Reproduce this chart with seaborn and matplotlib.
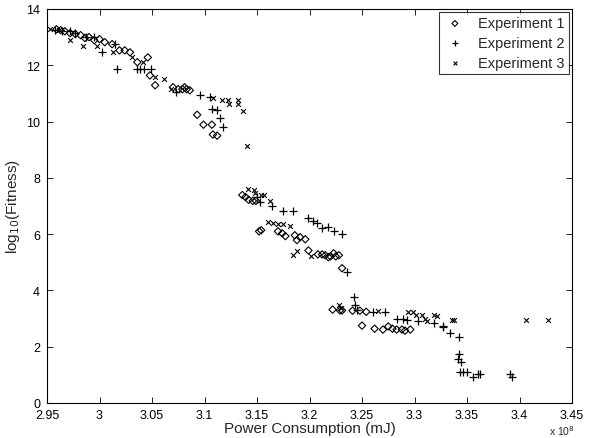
import matplotlib
matplotlib.use("Agg")
import matplotlib.pyplot as plt
import seaborn as sns
import pandas as pd

# power consumption in units of 1e8 mJ, fitness as log10
exp1_power = [2.959, 2.963, 2.967, 2.972, 2.977, 2.982, 2.986, 2.990, 2.995, 3.000,
              3.005, 3.012, 3.019, 3.024, 3.029, 3.036, 3.046, 3.048, 3.053, 3.070,
              3.075, 3.079, 3.081, 3.083, 3.086, 3.093, 3.099, 3.107, 3.108, 3.112,
              3.136, 3.139, 3.142, 3.146, 3.149, 3.152, 3.154, 3.170, 3.174, 3.177,
              3.186, 3.188, 3.191, 3.196, 3.199, 3.208, 3.212, 3.215, 3.218, 3.220,
              3.223, 3.225, 3.228, 3.231, 3.222, 3.229, 3.231, 3.241, 3.248, 3.254,
              3.250, 3.262, 3.270, 3.275, 3.279, 3.283, 3.288, 3.291, 3.296]
exp1_fitness = [13.28, 13.25, 13.21, 13.14, 13.11, 13.07, 12.97, 13.00, 12.89, 12.93,
                12.82, 12.75, 12.53, 12.53, 12.46, 12.11, 12.28, 11.64, 11.29, 11.22,
                11.15, 11.15, 11.22, 11.15, 11.11, 10.24, 9.89, 9.89, 9.54, 9.50,
                7.39, 7.32, 7.22, 7.18, 7.18, 6.10, 6.14, 6.10, 6.03, 5.93,
                5.96, 5.79, 5.89, 5.82, 5.42, 5.28, 5.28, 5.25, 5.18, 5.21,
                5.32, 5.21, 5.25, 4.79, 3.32, 3.29, 3.29, 3.28, 3.28, 3.24,
                2.75, 2.64, 2.61, 2.72, 2.64, 2.61, 2.61, 2.57, 2.61]

exp2_power = [2.958, 2.964, 2.972, 2.977, 2.987, 2.995, 3.002, 3.015, 3.017, 3.036,
              3.039, 3.042, 3.049, 3.073, 3.096, 3.105, 3.107, 3.112, 3.115, 3.118,
              3.150, 3.153, 3.164, 3.175, 3.184, 3.199, 3.203, 3.207, 3.212, 3.218,
              3.223, 3.231, 3.236, 3.242, 3.243, 3.245, 3.260, 3.272, 3.283, 3.289,
              3.293, 3.303, 3.319, 3.327, 3.327, 3.334, 3.342, 3.342, 3.341, 3.344,
              3.343, 3.346, 3.350, 3.356, 3.360, 3.362, 3.391, 3.393]
exp2_fitness = [13.25, 13.21, 13.21, 13.14, 13.00, 13.00, 12.46, 12.75, 11.86, 11.86,
                11.86, 11.86, 11.86, 11.04, 10.96, 10.89, 10.43, 10.40, 10.14, 9.79,
                7.32, 7.15, 7.00, 6.82, 6.82, 6.57, 6.47, 6.40, 6.21, 6.25,
                6.10, 6.00, 4.67, 3.75, 3.50, 3.32, 3.24, 3.24, 3.00, 3.00,
                2.96, 2.93, 2.86, 2.75, 2.71, 2.47, 2.33, 1.73, 1.55, 1.45,
                1.11, 1.11, 1.11, 0.93, 1.04, 1.04, 1.04, 0.93]

exp3_power = [2.953, 2.961, 2.972, 2.984, 2.998, 3.013, 3.031, 3.041, 3.053, 3.061,
              3.068, 3.108, 3.117, 3.122, 3.123, 3.132, 3.132, 3.137, 3.140, 3.141,
              3.147, 3.148, 3.154, 3.157, 3.162, 3.160, 3.165, 3.170, 3.175, 3.181,
              3.184, 3.188, 3.201, 3.228, 3.230, 3.265, 3.294, 3.299, 3.301, 3.307,
              3.310, 3.312, 3.319, 3.321, 3.336, 3.338, 3.406, 3.427]
exp3_fitness = [13.28, 13.25, 12.89, 12.68, 12.68, 12.46, 12.28, 12.11, 11.57, 11.50,
                11.15, 10.85, 10.78, 10.75, 10.64, 10.75, 10.61, 10.36, 9.14, 7.61,
                7.57, 7.46, 7.39, 7.39, 7.18, 6.43, 6.40, 6.36, 6.36, 6.28,
                5.25, 5.39, 5.21, 3.47, 3.39, 3.28, 3.24, 3.24, 3.14, 3.14,
                3.00, 2.93, 3.14, 3.10, 2.96, 2.96, 2.96, 2.96]

x_ticks = [2.95, 3.0, 3.05, 3.1, 3.15, 3.2, 3.25, 3.3, 3.35, 3.4, 3.45]
x_tick_labels = ["2.95", "3", "3.05", "3.1", "3.15", "3.2", "3.25", "3.3", "3.35", "3.4", "3.45"]
y_ticks = [0, 2, 4, 6, 8, 10, 12, 14]

df1 = pd.DataFrame({"power": exp1_power, "fitness": exp1_fitness})
df2 = pd.DataFrame({"power": exp2_power, "fitness": exp2_fitness})
df3 = pd.DataFrame({"power": exp3_power, "fitness": exp3_fitness})

sns.set_style("white")
plt.rcParams["font.family"] = ["Liberation Sans", "DejaVu Sans"]

fig = plt.figure(figsize=(5.9, 4.39), dpi=100)
ax = fig.add_axes([47 / 590, 1 - 404 / 439, 525 / 590, 394 / 439])

sns.scatterplot(data=df1, x="power", y="fitness", marker="D", s=14,
                facecolors="none", edgecolor="black", linewidth=0.8,
                label="Experiment 1", ax=ax)
sns.scatterplot(data=df2, x="power", y="fitness", marker="+", s=28,
                color="black", linewidth=0.9, label="Experiment 2", ax=ax)
sns.scatterplot(data=df3, x="power", y="fitness", marker="x", s=12,
                color="black", linewidth=0.8, label="Experiment 3", ax=ax)

ax.set_xlim(2.95, 3.45)
ax.set_ylim(0, 14)
ax.set_xticks(x_ticks)
ax.set_xticklabels(x_tick_labels)
ax.set_yticks(y_ticks)
ax.tick_params(direction="in", length=4, width=0.6, labelsize=9,
               top=True, right=True, bottom=True, left=True, colors="black")
ax.tick_params(axis="x", pad=4.5)
ax.tick_params(axis="y", pad=5)
for sp in ax.spines.values():
    sp.set_color("black")
    sp.set_linewidth(0.8)

ax.set_xlabel("Power Consumption (mJ)", fontsize=11, labelpad=0)
ax.set_ylabel("log$_{10}$(Fitness)", fontsize=11, labelpad=3)
ax.text(0.981, -0.07, "x 10$^{8}$", transform=ax.transAxes, fontsize=7.5,
        ha="center", va="center")

leg = ax.legend(loc="upper right", frameon=True, fancybox=False, fontsize=10.5,
                borderaxespad=0.2, handletextpad=0.8, borderpad=0.3,
                handlelength=1.6, labelspacing=0.4, markerscale=0.8)
leg.get_frame().set_edgecolor("black")
leg.get_frame().set_linewidth(0.8)

fig.savefig("out.png", dpi=100)
